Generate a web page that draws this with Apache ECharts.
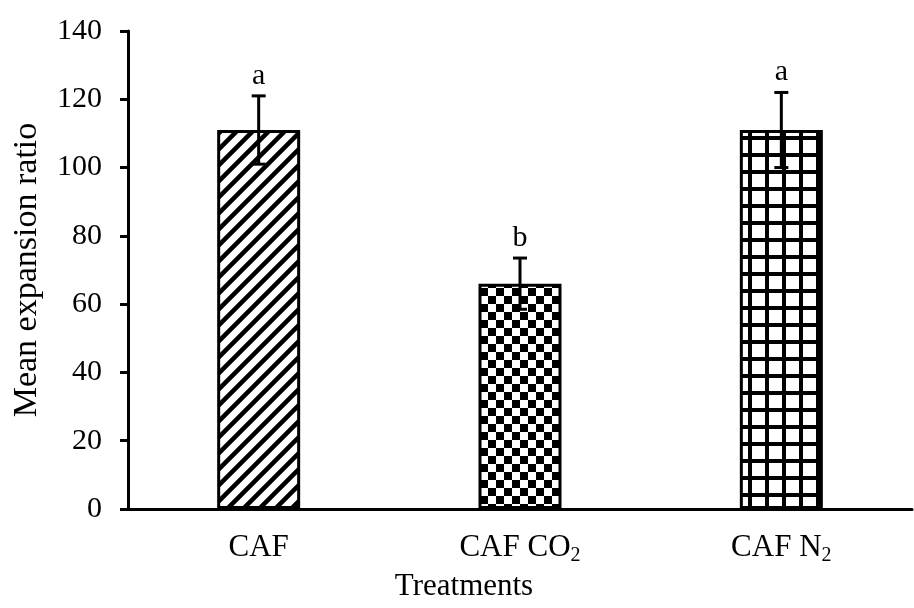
<!DOCTYPE html>
<html>
<head>
<meta charset="utf-8">
<script src="https://cdn.jsdelivr.net/npm/echarts@6/dist/echarts.min.js"></script>
<style>
    html, body { margin: 0; padding: 0; background: #fff; }
    #chart { width: 914px; height: 608px; }
</style>
</head>
<body>
<div id="chart"></div>
<script>
var categories = ['CAF', 'CAF CO{sub|2}', 'CAF N{sub|2}'];
var means = [111, 66, 111];
var errors = [10, 7.5, 11];
var letters = ['a', 'b', 'a'];
var yTicks = [0, 20, 40, 60, 80, 100, 120, 140];

var serif = "'Liberation Serif', 'Times New Roman', serif";

function tile(size, draw) {
    var c = document.createElement('canvas');
    c.width = size;
    c.height = size;
    var ctx = c.getContext('2d');
    ctx.fillStyle = '#fff';
    ctx.fillRect(0, 0, size, size);
    ctx.fillStyle = '#000';
    ctx.strokeStyle = '#000';
    draw(ctx, size);
    return {image: c, repeat: 'repeat'};
}

// diagonal stripes, checkerboard, grid
var patterns = [
    tile(16, function (ctx, s) {
        ctx.lineWidth = 4.5;
        ctx.beginPath();
        ctx.moveTo(-s, s); ctx.lineTo(s, -s);
        ctx.moveTo(0, s); ctx.lineTo(s, 0);
        ctx.moveTo(0, 2 * s); ctx.lineTo(2 * s, 0);
        ctx.stroke();
    }),
    tile(16, function (ctx, s) {
        ctx.fillRect(0, 0, s / 2, s / 2);
        ctx.fillRect(s / 2, s / 2, s / 2, s / 2);
    }),
    tile(17, function (ctx, s) {
        ctx.fillRect(0, 0, 4, s);
        ctx.fillRect(0, 0, s, 4);
    })
];

function errorBar(params, api) {
    var i = api.value(0);
    var lo = api.coord([i, api.value(1)]);
    var hi = api.coord([i, api.value(2)]);
    var half = 7;
    var style = {stroke: '#000', lineWidth: 3};
    return {
        type: 'group',
        children: [
            {type: 'line', shape: {x1: hi[0], y1: hi[1], x2: lo[0], y2: lo[1]}, style: style},
            {type: 'line', shape: {x1: hi[0] - half, y1: hi[1], x2: hi[0] + half, y2: hi[1]}, style: style},
            {type: 'line', shape: {x1: lo[0] - half, y1: lo[1], x2: lo[0] + half, y2: lo[1]}, style: style},
            {
                type: 'text',
                style: {
                    x: hi[0], y: hi[1] - 5,
                    text: letters[params.dataIndex],
                    align: 'center', verticalAlign: 'bottom',
                    font: '30px ' + serif, fill: '#000'
                }
            }
        ]
    };
}

var chart = echarts.init(document.getElementById('chart'), null, {renderer: 'canvas'});

var option = {
    backgroundColor: '#fff',
    animation: false,
    textStyle: {fontFamily: serif, color: '#000'},
    grid: {left: 128, right: 2, top: 31, bottom: 99},
    xAxis: {
        type: 'category',
        data: categories,
        boundaryGap: true,
        name: 'Treatments',
        nameLocation: 'middle',
        nameGap: 58,
        nameTextStyle: {fontSize: 31, fontFamily: serif, color: '#000', padding: [0, 112, 0, 0]},
        axisLine: {lineStyle: {color: '#000', width: 3}},
        axisTick: {inside: true, length: 8, lineStyle: {color: '#000', width: 3}},
        axisLabel: {
            interval: 0, hideOverlap: false,
            fontSize: 31, fontFamily: serif, color: '#000', margin: 21, lineHeight: 36,
            rich: {
                sub: {fontSize: 20, fontFamily: serif, color: '#000', lineHeight: 20, padding: [16, 0, 0, 0]}
            }
        }
    },
    yAxis: {
        type: 'value',
        min: yTicks[0],
        max: yTicks[yTicks.length - 1],
        interval: 20,
        name: 'Mean expansion ratio',
        nameLocation: 'middle',
        nameGap: 84,
        nameTextStyle: {fontSize: 34, fontFamily: serif, color: '#000'},
        axisLine: {show: true, lineStyle: {color: '#000', width: 3}},
        axisTick: {show: true, length: 8, lineStyle: {color: '#000', width: 3}},
        axisLabel: {fontSize: 30, fontFamily: serif, color: '#000', margin: 26},
        splitLine: {show: false}
    },
    series: [
        {
            type: 'bar',
            barWidth: 83,
            data: means.map(function (v, i) {
                return {value: v, itemStyle: {color: patterns[i], borderColor: '#000', borderWidth: 3}};
            }),
            z: 2
        },
        {
            type: 'custom',
            renderItem: errorBar,
            data: means.map(function (v, i) {
                return [i, v - errors[i], v + errors[i]];
            }),
            z: 5
        }
    ]
};

chart.setOption(option);
</script>
</body>
</html>
